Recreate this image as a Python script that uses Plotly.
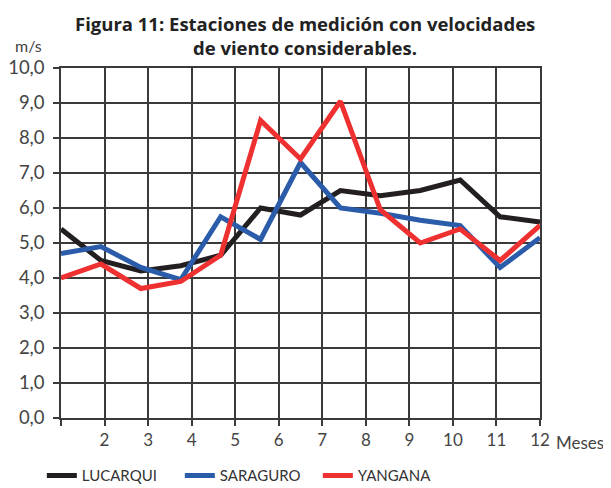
import plotly.graph_objects as go

# 13 lecturas por estacion, repartidas entre el mes 1 y el mes 12
puntos = list(range(13))
lucarqui = [5.4, 4.5, 4.2, 4.35, 4.65, 6.0, 5.8, 6.5, 6.35, 6.5, 6.8, 5.75, 5.6]
saraguro = [4.7, 4.9, 4.3, 3.95, 5.75, 5.1, 7.3, 6.0, 5.85, 5.65, 5.5, 4.3, 5.15]
yangana = [4.0, 4.4, 3.7, 3.9, 4.65, 8.5, 7.4, 9.05, 5.95, 5.0, 5.4, 4.5, 5.5]

meses = list(range(1, 13))
meses_txt = [""] + [str(m) for m in meses[1:]]
# posicion de cada mes sobre la escala de lecturas (0..12)
pos_meses = [(m - 1) * 12 / 11 for m in meses]

font = "Lato"
grid = "#3a3a3a"

fig = go.Figure()
series = [("LUCARQUI", lucarqui, "#231f20"),
          ("SARAGURO", saraguro, "#2a5caa"),
          ("YANGANA", yangana, "#ee3130")]
for name, vals, col in series:
    fig.add_trace(go.Scatter(x=puntos, y=vals, name=name, mode="lines",
                             line=dict(color=col, width=5)))

# la pagina deja 8px de margen, por eso la figura es algo menor que la ventana
fig.update_layout(
    width=603, height=480,
    margin=dict(l=53, r=71, t=60, b=70, autoexpand=False),
    paper_bgcolor="white", plot_bgcolor="white",
    separators=",.",
    font=dict(family=font, size=17, color="#444"),
    xaxis=dict(range=[0, 12], tickvals=pos_meses, ticktext=meses_txt,
               showgrid=True, gridcolor=grid, gridwidth=1.5,
               showline=True, linecolor=grid, linewidth=1.5, mirror=True,
               ticks="outside", ticklen=6, tickcolor=grid, tickwidth=1.5,
               automargin=False,
               tickfont=dict(size=17, color="#444"), zeroline=False),
    yaxis=dict(range=[0, 10], dtick=1, tickformat=".1f",
               showgrid=True, gridcolor=grid, gridwidth=1.5,
               showline=True, linecolor=grid, linewidth=1.5, mirror=True,
               ticks="outside", ticklen=6, tickcolor=grid, tickwidth=1.5,
               ticklabelstandoff=5, automargin=False,
               tickfont=dict(size=18.5, color="#444"), zeroline=False),
    legend=dict(orientation="h", x=-0.04, xanchor="left", y=-0.165, yanchor="middle",
                font=dict(size=15, color="#333"), entrywidth=93, itemwidth=30),
    annotations=[
        dict(text="<b>Figura 11: Estaciones de medición con velocidades</b>",
             xref="paper", yref="paper", x=0.51, y=(418 - 23) / 350,
             xanchor="center", yanchor="middle",
             showarrow=False, font=dict(family="Open Sans", size=18.5, color="#222")),
        dict(text="<b>de viento considerables.</b>",
             xref="paper", yref="paper", x=0.51, y=(418 - 48) / 350,
             xanchor="center", yanchor="middle",
             showarrow=False, font=dict(family="Open Sans", size=18.5, color="#222")),
        dict(text="m/s", xref="paper", yref="paper", x=-0.1, y=(418 - 45) / 350,
             xanchor="left", yanchor="middle", showarrow=False,
             font=dict(size=16, color="#444")),
        dict(text="Meses", xref="paper", yref="paper", x=1.03, y=(418 - 442) / 350,
             xanchor="left", yanchor="middle", showarrow=False,
             font=dict(size=17, color="#444")),
    ],
)

fig.write_html("out.html")
